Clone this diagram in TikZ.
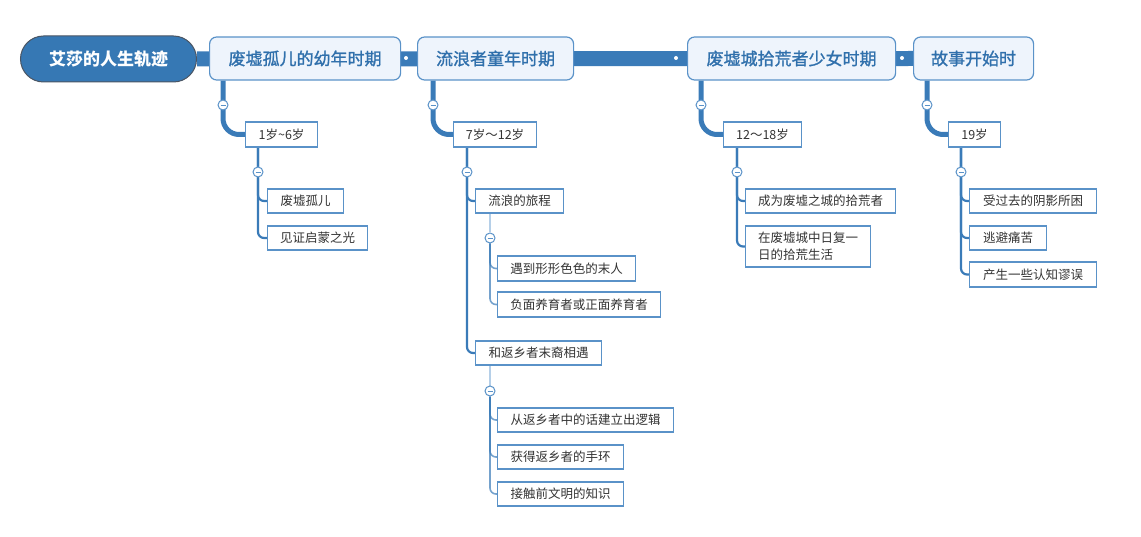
\documentclass[tikz,border=0pt]{standalone}
\usepackage{fontspec}
\newfontfamily\cjk{Noto Sans CJK SC}
\newfontfamily\cjkm{Noto Sans CJK SC}[FakeBold=1.3]
\usetikzlibrary{calc}
\definecolor{mainblue}{HTML}{3A7BB8}
\definecolor{rootfill}{HTML}{3678B4}
\definecolor{rootedge}{HTML}{4B5563}
\definecolor{topicfill}{HTML}{EEF4FC}
\definecolor{topicedge}{HTML}{5A92C8}
\definecolor{topictext}{HTML}{3070AC}
\definecolor{subedge}{HTML}{5A92C8}
\definecolor{subtext}{HTML}{333333}
\definecolor{lightline}{HTML}{B5CFE8}
\pgfdeclarelayer{bg}
\pgfsetlayers{bg,main}
\tikzset{
  rootnode/.style={rectangle, rounded corners=23, fill=rootfill, draw=rootedge, line width=1,
    text=white, font=\cjk\bfseries\fontsize{17}{20}\selectfont, inner sep=0, minimum height=46, anchor=west},
  topic/.style={rectangle, rounded corners=7, fill=topicfill, draw=topicedge, line width=1.2,
    text=topictext, font=\cjkm\fontsize{17}{20}\selectfont, inner sep=0, minimum height=43, anchor=west},
  sub/.style={rectangle, fill=white, draw=subedge, line width=1.1,
    text=subtext, font=\cjk\fontsize{12.5}{17}\selectfont, inner sep=0, minimum height=25, anchor=west},
  leaf/.style={sub, minimum height=24},
  bar/.style={draw=mainblue, line width=15},
  dotm/.style={circle, fill=white, inner sep=0, minimum size=4},
  fold/.style={circle, fill=white, draw=topicedge, line width=1, inner sep=0, minimum size=10,
    path picture={\draw[draw=topicedge, line width=0.7] ($(path picture bounding box.center)+(-2.5,0)$) -- ($(path picture bounding box.center)+(2.5,0)$);}},
  lonel/.style={draw=mainblue, line width=5, rounded corners=16},
  ltwo/.style={draw=mainblue, line width=2.2, rounded corners=6},
  lthree/.style={draw=mainblue, draw opacity=0.7, line width=1.6, rounded corners=6},
  llight/.style={draw=lightline, line width=1.6},
}
\begin{document}
\begin{tikzpicture}[x=1pt, y=-1pt]
\useasboundingbox (0,0) rectangle (1141,537);
% main row
\node[rootnode, minimum width=176] (root) at (20,59) {艾莎的人生轨迹};
\node[topic, minimum width=191] (b1) at (209,58.5) {废墟孤儿的幼年时期};
\node[topic, minimum width=156] (b2) at (417,58.5) {流浪者童年时期};
\node[topic, minimum width=208] (b3) at (687,58.5) {废墟城拾荒者少女时期};
\node[topic, minimum width=120] (b4) at (913,58.5) {故事开始时};
\node[dotm] (d1) at (406,58) {};
\node[dotm] (d2) at (676,58) {};
\node[dotm] (d3) at (902,58) {};
% level 2
\node[sub, minimum width=72] (a1) at (245,134.5) {1岁\textasciitilde 6岁};
\node[sub, minimum width=83] (a2) at (453,134.5) {7岁～12岁};
\node[sub, minimum width=78] (a3) at (723,134.5) {12～18岁};
\node[sub, minimum width=52] (a4) at (948,134.5) {19岁};
% leaves
\node[leaf, minimum width=76] (c11) at (267,201) {废墟孤儿};
\node[leaf, minimum width=100] (c12) at (267,238) {见证启蒙之光};
\node[leaf, minimum width=88] (c21) at (475,201) {流浪的旅程};
\node[leaf, minimum width=126] (c22) at (475,353) {和返乡者末裔相遇};
\node[sub, minimum width=138] (c211) at (497,268.5) {遇到形形色色的末人};
\node[sub, minimum width=163] (c212) at (497,304.5) {负面养育者或正面养育者};
\node[leaf, minimum width=176] (c221) at (497,420) {从返乡者中的话建立出逻辑};
\node[leaf, minimum width=126] (c222) at (497,457) {获得返乡者的手环};
\node[leaf, minimum width=126] (c223) at (497,494) {接触前文明的知识};
\node[leaf, minimum width=150] (c31) at (745,201) {成为废墟之城的拾荒者};
\node[sub, minimum width=125, minimum height=41, align=left] (c32) at (745,246.5) {在废墟城中日复一\\日的拾荒生活};
\node[leaf, minimum width=127] (c41) at (969,201) {受过去的阴影所困};
\node[leaf, minimum width=77] (c42) at (969,238) {逃避痛苦};
\node[sub, minimum width=127] (c43) at (969,274.5) {产生一些认知谬误};
% fold markers
\node[fold] (f1) at (223,105) {};
\node[fold] (f2) at (433,105) {};
\node[fold] (f3) at (701,105) {};
\node[fold] (f4) at (927,105) {};
\node[fold] (g1) at (258,172) {};
\node[fold] (g2) at (467,172) {};
\node[fold] (g3) at (737,172) {};
\node[fold] (g4) at (961,172) {};
\node[fold] (h1) at (490,238) {};
\node[fold] (h2) at (490,391) {};
% connectors
\begin{pgfonlayer}{bg}
\draw[bar] (root.east) -- (b4.west);
\draw[lonel] (b1.south -| f1) |- (a1.west);
\draw[lonel] (b2.south -| f2) |- (a2.west);
\draw[lonel] (b3.south -| f3) |- (a3.west);
\draw[lonel] (b4.south -| f4) |- (a4.west);
\draw[ltwo] (a1.south -| g1) |- (c11.west);
\draw[ltwo] (a1.south -| g1) |- (c12.west);
\draw[ltwo] (a2.south -| g2) |- (c21.west);
\draw[ltwo] (a2.south -| g2) |- (c22.west);
\draw[ltwo] (a3.south -| g3) |- (c31.west);
\draw[ltwo] (a3.south -| g3) |- (c32.west);
\draw[ltwo] (a4.south -| g4) |- (c41.west);
\draw[ltwo] (a4.south -| g4) |- (c42.west);
\draw[ltwo] (a4.south -| g4) |- (c43.west);
\draw[llight] (c21.south -| h1) -- (h1);
\draw[llight] (c22.south -| h2) -- (h2);
\draw[lthree] (h1) |- (c211.west);
\draw[lthree] (h1) |- (c212.west);
\draw[lthree] (h2) |- (c221.west);
\draw[lthree] (h2) |- (c222.west);
\draw[lthree] (h2) |- (c223.west);
\end{pgfonlayer}
\end{tikzpicture}
\end{document}
